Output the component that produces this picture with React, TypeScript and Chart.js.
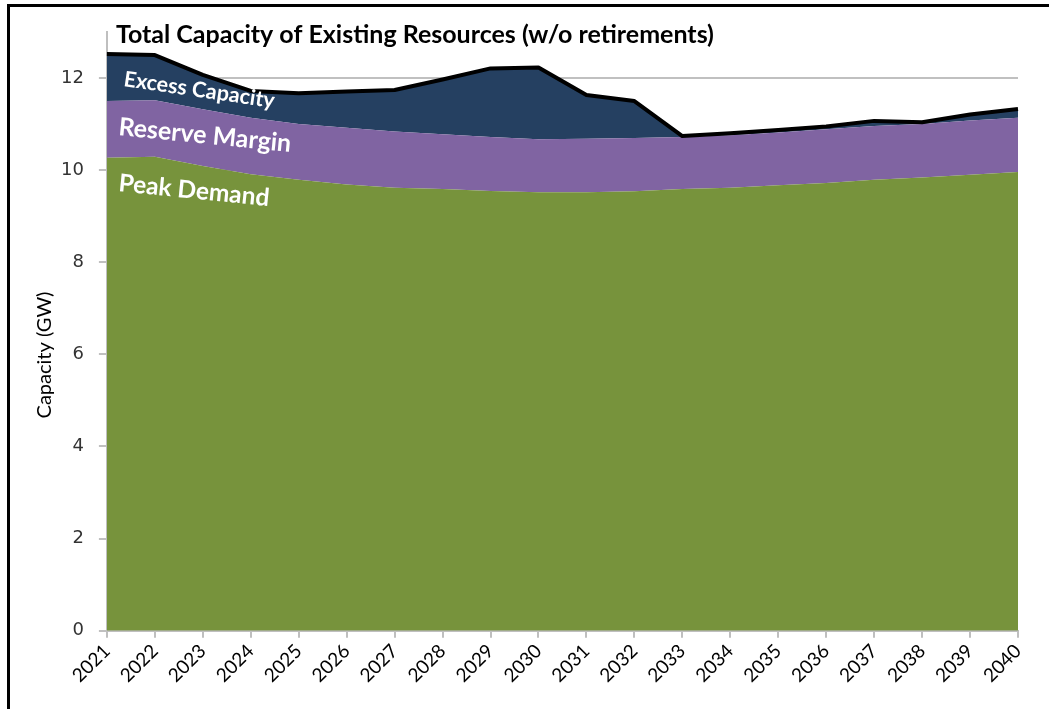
import React, { useEffect, useRef } from 'react';
import { Chart, registerables } from 'chart.js';

Chart.register(...registerables);

const years = ['2021','2022','2023','2024','2025','2026','2027','2028','2029','2030','2031','2032','2033','2034','2035','2036','2037','2038','2039','2040'];
const peakDemand = [10.27,10.29,10.09,9.91,9.79,9.69,9.62,9.59,9.55,9.52,9.52,9.54,9.59,9.62,9.67,9.72,9.79,9.84,9.90,9.96];
const reserveMargin = [1.23,1.23,1.23,1.23,1.21,1.23,1.22,1.19,1.17,1.15,1.16,1.16,1.13,1.14,1.15,1.17,1.17,1.16,1.18,1.18];
const excessCapacity = [1.02,0.98,0.75,0.58,0.67,0.79,0.90,1.19,1.49,1.56,0.95,0.80,0.02,0.04,0.05,0.06,0.11,0.04,0.13,0.19];
const yTicks = [0, 2, 4, 6, 8, 10, 12];

const titleText = 'Total Capacity of Existing Resources (w/o retirements)';
const yTitleText = 'Capacity (GW)';
const areaLabels = [
  { text: 'Excess Capacity', dx: 16, y: 86, angle: 8.3, width: 155 },
  { text: 'Reserve Margin', dx: 11, y: 135, angle: 5.6, width: 174 },
  { text: 'Peak Demand', dx: 11, y: 191, angle: 5.7, width: 152 },
];

function fitFont(ctx: CanvasRenderingContext2D, text: string, width: number, family: string, weight = 'bold') {
  let size = 30;
  while (size > 8) {
    ctx.font = `${weight} ${size}px ${family}`;
    if (ctx.measureText(text).width <= width) break;
    size -= 0.5;
  }
  return ctx.font;
}

const textPlugin = {
  id: 'textPlugin',
  afterDatasetsDraw(chart: any) {
    const ctx: CanvasRenderingContext2D = chart.ctx;
    const left = chart.chartArea.left;
    const top = chart.chartArea.top;
    ctx.save();
    ctx.fillStyle = '#000';
    ctx.textBaseline = 'alphabetic';
    ctx.textAlign = 'left';
    ctx.font = fitFont(ctx, titleText, 607, 'Lato');
    ctx.fillText(titleText, left + 9, 43);

    ctx.save();
    ctx.font = fitFont(ctx, yTitleText, 130, 'Lato', 'normal');
    ctx.textAlign = 'center';
    ctx.textBaseline = 'middle';
    ctx.translate(left - 62, top + 323);
    ctx.rotate(-Math.PI / 2);
    ctx.fillText(yTitleText, 0, 0);
    ctx.restore();

    ctx.fillStyle = '#ffffff';
    for (const l of areaLabels) {
      ctx.save();
      ctx.font = fitFont(ctx, l.text, l.width, 'Lato');
      ctx.translate(left + l.dx, l.y);
      ctx.rotate((l.angle * Math.PI) / 180);
      ctx.fillText(l.text, 0, 0);
      ctx.restore();
    }
    ctx.restore();
  },
};

export default function App() {
  const ref = useRef<HTMLCanvasElement | null>(null);
  useEffect(() => {
    if (!ref.current) return;
    const chart = new Chart(ref.current, {
      type: 'line',
      data: {
        labels: years,
        datasets: [
          {
            label: 'Peak Demand',
            data: peakDemand,
            backgroundColor: '#77933C',
            borderWidth: 0,
            borderColor: 'rgba(0,0,0,0)',
            pointRadius: 0,
            fill: 'origin',
            tension: 0,
          },
          {
            label: 'Reserve Margin',
            data: reserveMargin,
            backgroundColor: '#8064A2',
            borderWidth: 0,
            borderColor: 'rgba(0,0,0,0)',
            pointRadius: 0,
            fill: '-1',
            tension: 0,
          },
          {
            label: 'Excess Capacity',
            data: excessCapacity,
            backgroundColor: '#254061',
            borderColor: '#000000',
            borderWidth: 4,
            borderJoinStyle: 'round',
            pointRadius: 0,
            fill: '-1',
            tension: 0,
          },
        ],
      },
      options: {
        responsive: false,
        animation: false,
        layout: { padding: { left: 46, right: 31, top: 32, bottom: 20 } },
        plugins: {
          legend: { display: false },
          tooltip: { enabled: false },
          filler: { drawTime: 'beforeDatasetsDraw' },
        } as any,
        scales: {
          x: {
            offset: false,
            grid: {
              display: true,
              drawOnChartArea: false,
              color: '#BFBFBF',
              lineWidth: 2,
              tickLength: 7,
            },
            border: { color: '#BFBFBF', width: 2 },
            ticks: {
              minRotation: 45,
              maxRotation: 45,
              autoSkip: false,
              color: '#000',
              font: { family: 'Lato', size: 19 },
              padding: 2,
            },
          },
          y: {
            stacked: true,
            min: 0,
            max: 13,
            afterBuildTicks: (axis: any) => {
              axis.ticks = yTicks.map((v) => ({ value: v }));
            },
            grid: {
              color: '#C0C0C0',
              lineWidth: 2,
              tickLength: 8,
            },
            border: { color: '#BFBFBF', width: 2 },
            ticks: {
              color: '#333333',
              font: { family: 'DejaVu Sans', size: 18 },
              padding: 15,
            },
          },
        },
      },
      plugins: [textPlugin],
    } as any);
    return () => chart.destroy();
  }, []);

  return (
    <div style={{ position: 'absolute', left: 0, top: 0, width: 1049, height: 709, overflow: 'hidden', background: '#fff' }}>
      <canvas ref={ref} width={1049} height={709} style={{ position: 'absolute', left: 0, top: 0, width: 1049, height: 709 }} />
      <div style={{ position: 'absolute', left: 7, top: 4, width: 2000, height: 2000, borderTop: '3px solid #000', borderLeft: '3px solid #000', pointerEvents: 'none' }} />
    </div>
  );
}
